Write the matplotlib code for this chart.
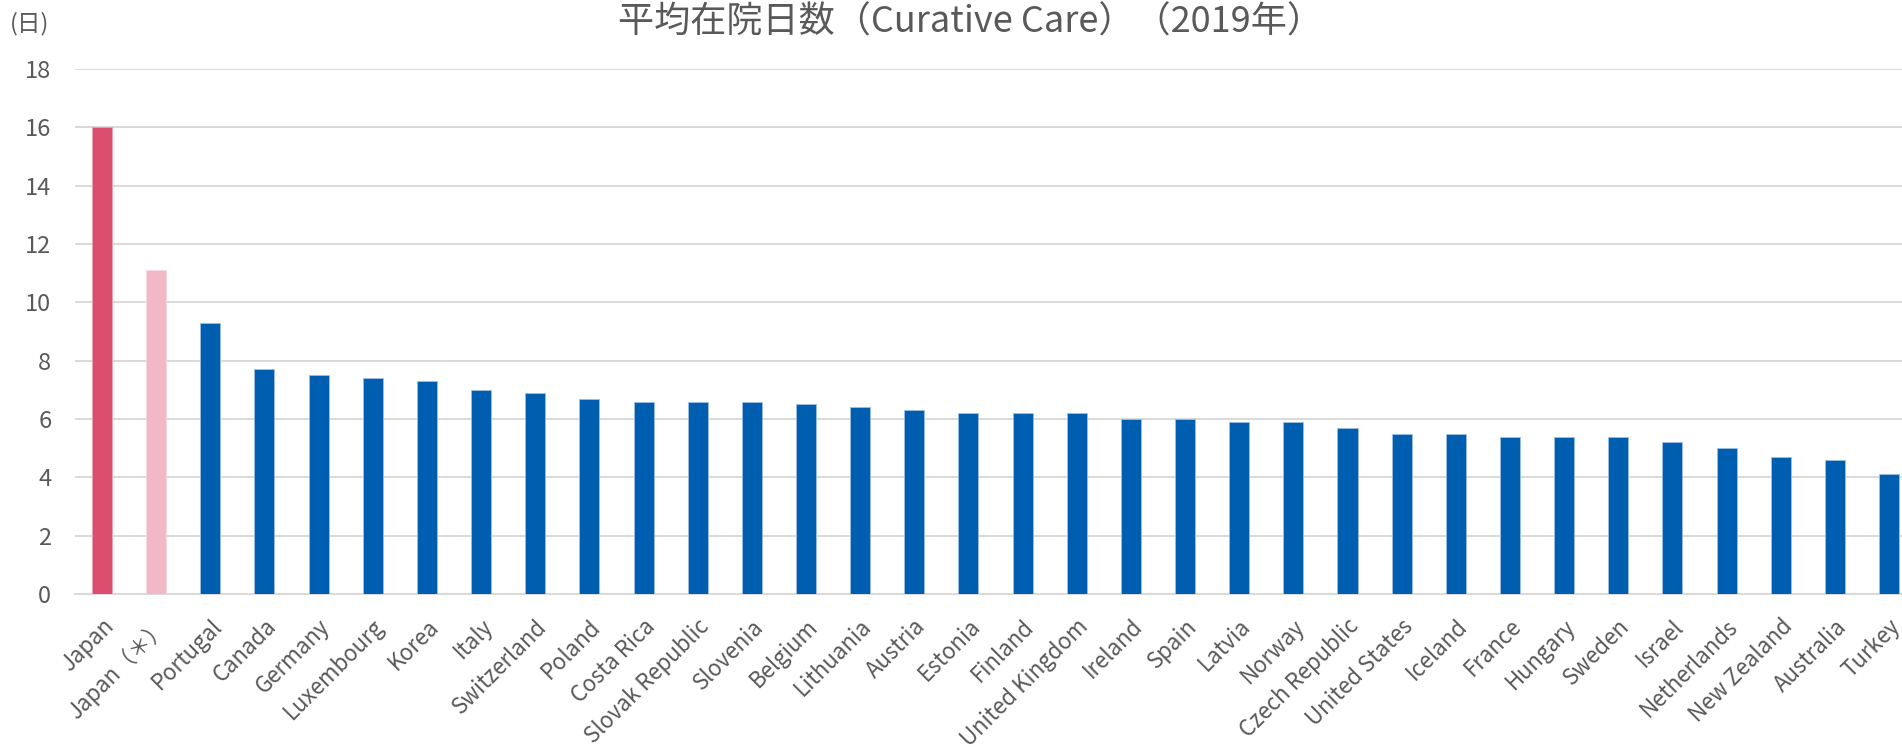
import matplotlib
matplotlib.use("Agg")
from matplotlib import pyplot as plt

# data
countries = [
    "Japan", "Japan（＊）", "Portugal", "Canada", "Germany", "Luxembourg", "Korea",
    "Italy", "Switzerland", "Poland", "Costa Rica", "Slovak Republic", "Slovenia",
    "Belgium", "Lithuania", "Austria", "Estonia", "Finland", "United Kingdom",
    "Ireland", "Spain", "Latvia", "Norway", "Czech Republic", "United States",
    "Iceland", "France", "Hungary", "Sweden", "Israel", "Netherlands",
    "New Zealand", "Australia", "Turkey",
]
days = [
    16.0, 11.1, 9.3, 7.7, 7.5, 7.4, 7.3,
    7.0, 6.9, 6.7, 6.6, 6.6, 6.6,
    6.5, 6.4, 6.3, 6.2, 6.2, 6.2,
    6.0, 6.0, 5.9, 5.9, 5.7, 5.5,
    5.5, 5.4, 5.4, 5.4, 5.2, 5.0,
    4.7, 4.6, 4.1,
]
y_ticks = [0, 2, 4, 6, 8, 10, 12, 14, 16, 18]

TEXT = "#595959"
BLUE = "#005EB0"
bar_colors = ["#DC4E6E", "#F2B8C6"] + [BLUE] * (len(countries) - 2)
edge_colors = ["#EFA3B4", "#F8D7DF"] + ["#9DBFE3"] * (len(countries) - 2)

plt.rcParams['font.family'] = ['Noto Sans CJK JP', 'DejaVu Sans']

fig = plt.figure(figsize=(19.02, 7.47), dpi=100)
ax = fig.add_axes([0.0394, 0.2048, 0.9606, 0.7028])

x = list(range(len(countries)))
ax.bar(x, days, width=0.37, color=bar_colors, edgecolor=edge_colors,
       linewidth=0.6, zorder=3)

ax.set_ylim(0, 18)
ax.set_xlim(-0.5, 33.24)
ax.set_yticks(y_ticks)
ax.set_yticklabels([str(t) for t in y_ticks], fontsize=17, color=TEXT)
ax.set_xticks(x)
ax.set_xticklabels(countries, rotation=45, ha="right", rotation_mode="anchor",
                   fontsize=16, color=TEXT)
ax.tick_params(axis="both", length=0)
ax.tick_params(axis="y", pad=17)
ax.tick_params(axis="x", pad=15)

ax.grid(axis="y", color="#D9D9D9", linewidth=1.4, zorder=0)
for side in ["top", "right", "left"]:
    ax.spines[side].set_visible(False)
ax.spines["bottom"].set_color("#D9D9D9")
ax.spines["bottom"].set_linewidth(1.4)

fig.text(0.51, 0.97, "平均在院日数（Curative Care）（2019年）", ha="center",
         va="center", fontsize=26, color=TEXT)
fig.text(0.005, 0.968, "(日)", ha="left", va="center", fontsize=17, color=TEXT)

fig.savefig("out.png", dpi=100, facecolor="white")
